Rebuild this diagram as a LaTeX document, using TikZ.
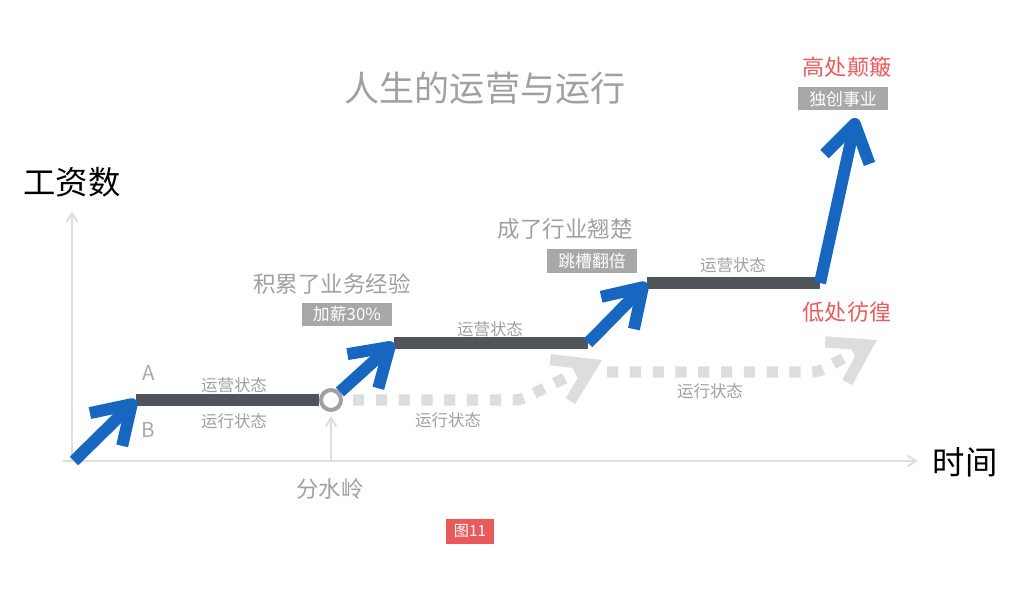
\documentclass[tikz,border=0pt]{standalone}
\usepackage{fontspec}
\setmainfont{Noto Sans CJK SC}
\usetikzlibrary{positioning,arrows.meta}
\definecolor{LifeBlue}{HTML}{1767C1}
\definecolor{LifeBar}{HTML}{50555C}
\definecolor{LifeGray}{HTML}{A0A0A0}
\definecolor{LifeTag}{HTML}{A8A8A8}
\definecolor{LifeDot}{HTML}{DCDDDF}
\definecolor{LifeAxis}{HTML}{DEDEDE}
\definecolor{LifeRed}{HTML}{E95A5C}
\tikzset{
  axisLine/.style={-{Straight Barb[length=0.22cm, width=0.27cm]}, line width=0.05cm, draw=LifeAxis},
  stepBar/.style={line width=0.28cm, draw=LifeBar},
  upArrow/.style={-{Straight Barb[length=0.9cm, width=1.15cm, line join=round]}, line width=0.3cm, draw=LifeBlue},
  dotPath/.style={-{Straight Barb[length=0.9cm, width=1.15cm]}, line width=0.28cm, draw=LifeDot,
    dash pattern=on 0.28cm off 0.29cm, rounded corners=0.15cm},
  tagBox/.style={fill=LifeTag, text=white, inner xsep=0.28cm, inner ysep=0pt, minimum height=0.575cm,
    font={\fontsize{12pt}{14pt}\selectfont}},
  headLbl/.style={font={\fontsize{16pt}{19pt}\selectfont}, text=LifeGray, inner sep=1pt},
  redLbl/.style={font={\fontsize{15.7pt}{19pt}\selectfont}, text=LifeRed, inner sep=1pt},
}

\begin{document}
\begin{tikzpicture}[
  x=0.025cm, y=-0.025cm,
  stateLbl/.style={font={\fontsize{11.7pt}{14pt}\selectfont}, text=LifeGray, inner sep=1pt},
  axisLbl/.style={font={\fontsize{23pt}{27pt}\selectfont}, text=black, inner sep=1pt},
  letterLbl/.style={font={\fontsize{14.6pt}{17pt}\selectfont}, text=LifeGray!90, inner sep=1pt},
  ridgeDot/.style={circle, draw=LifeGray, line width=0.1cm, fill=white, minimum size=0.5cm, inner sep=0pt},
]
  \useasboundingbox (0,0) rectangle (1024,615);

  \node[font={\fontsize{24.9pt}{29pt}\selectfont}, text=LifeGray] (title) at (485,88) {人生的运营与运行};

  % axes
  \coordinate (o) at (72,461);
  \coordinate (xStart) at (63,461);
  \coordinate (xEnd) at (918,461);
  \coordinate (yEnd) at (72,211);
  \draw[axisLine] (o) -- (yEnd);
  \draw[axisLine] (xStart) -- (xEnd);
  \node[axisLbl] (wage) at (72,182) {工资数};
  \node[axisLbl] (time) at (965,462) {时间};

  % staircase
  \coordinate (s0) at (74,461);
  \coordinate (s1) at (136,400);
  \node[ridgeDot] (ridge) at (331,400) {};
  \coordinate (s2) at (394,343);
  \coordinate (s2e) at (588,343);
  \coordinate (s3) at (647,283);
  \coordinate (s3e) at (820,283);
  \coordinate (peak) at (856,118);
  \coordinate (mark) at (331,461);

  % idle paths
  \coordinate (d1) at (353,400);
  \coordinate (bend1) at (520,400);
  \coordinate (g1) at (602,360);
  \coordinate (d2) at (607,372);
  \coordinate (bend2) at (818,372);
  \coordinate (g2) at (877,340);
  \draw[dotPath] (d1) -- (bend1) -- (g1);
  \draw[dotPath] (d2) -- (bend2) -- (g2);

  \draw[stepBar] (s1) -- (ridge.west);
  \draw[stepBar] (s2) -- (s2e);
  \draw[stepBar] (s3) -- (s3e);

  \draw[upArrow] (s0) -- (s1);
  \draw[upArrow] (ridge) -- (s2);
  \draw[upArrow] (s2e) -- (s3);
  \draw[upArrow] (s3e) -- (peak);

  \draw[axisLine, shorten >=0.1cm] (mark) -- (ridge);
  \node[headLbl] (ridgeLbl) at (330,489) {分水岭};

  \node[letterLbl] (pa) at (149,373) {A};
  \node[letterLbl] (pb) at (148,430) {B};
  \node[stateLbl] (op1) at (234,385) {运营状态};
  \node[stateLbl] (run1) at (234,421) {运行状态};
  \node[stateLbl] (op2) at (490,329) {运营状态};
  \node[stateLbl] (run2) at (448,420) {运行状态};
  \node[stateLbl] (op3) at (733,265) {运营状态};
  \node[stateLbl] (run3) at (710,391) {运行状态};

  \node[headLbl] (exp) at (332,284) {积累了业务经验};
  \node[tagBox] (raise) at (347,314.5) {加薪30\%};
  \node[headLbl] (lead) at (565,229) {成了行业翘楚};
  \node[tagBox] (jump) at (592,261) {跳槽翻倍};
  \node[redLbl] (top) at (847,67) {高处颠簸};
  \node[tagBox] (own) at (843,99) {独创事业};
  \node[redLbl] (low) at (847,312) {低处彷徨};

  \node[fill=LifeRed, text=white, inner xsep=0.2cm, inner ysep=0pt, minimum height=0.625cm,
    font={\fontsize{10.8pt}{12pt}\selectfont}] (fig) at (470,531.5) {图11};

\end{tikzpicture}
\end{document}
